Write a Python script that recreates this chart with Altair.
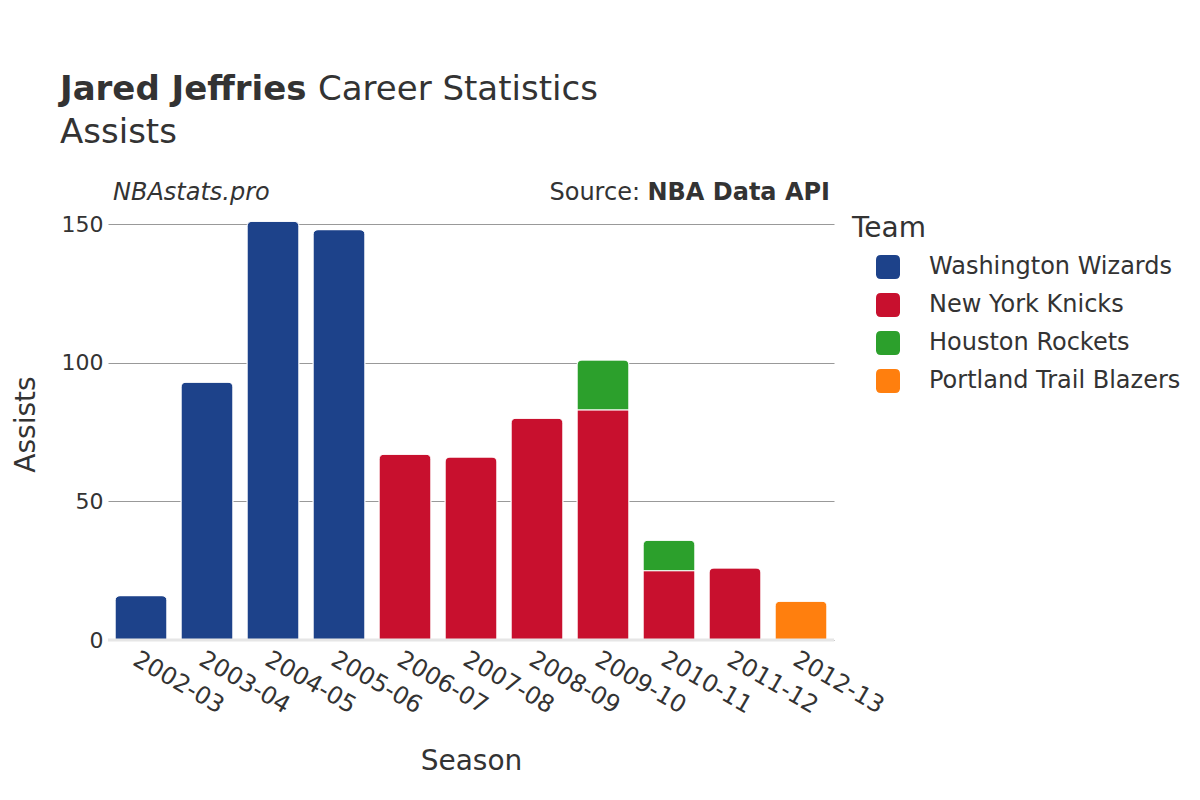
import altair as alt
import pandas as pd

seasons = ["2002-03", "2003-04", "2004-05", "2005-06", "2006-07", "2007-08",
           "2008-09", "2009-10", "2010-11", "2011-12", "2012-13"]
teams = ["Washington Wizards", "New York Knicks", "Houston Rockets", "Portland Trail Blazers"]
team_colors = ["#1d428a", "#c8102e", "#2ca02c", "#ff7f0e"]

row_season = ["2002-03", "2003-04", "2004-05", "2005-06",
              "2006-07", "2007-08", "2008-09", "2009-10", "2010-11", "2011-12",
              "2009-10", "2010-11",
              "2012-13"]
row_team = ["Washington Wizards"] * 4 + ["New York Knicks"] * 6 + ["Houston Rockets"] * 2 + ["Portland Trail Blazers"]
row_assists = [16, 93, 151, 148,
               67, 66, 80, 83, 25, 26,
               18, 11,
               14]

FONT = "DejaVu Sans"
TXT = "#333333"

df = pd.DataFrame({"Season": row_season, "Team": row_team, "Assists": row_assists})
df["order"] = df["Team"].map({t: i for i, t in enumerate(teams)})

rounded = "M -0.6 -1 L 0.6 -1 Q 1 -1 1 -0.6 L 1 0.6 Q 1 1 0.6 1 L -0.6 1 Q -1 1 -1 0.6 L -1 -0.6 Q -1 -1 -0.6 -1 Z"

bars = alt.Chart(df).mark_bar(cornerRadiusEnd=5, stroke="white", strokeWidth=1).encode(
    x=alt.X("Season:N", sort=seasons,
            scale=alt.Scale(paddingInner=0.212, paddingOuter=0.106),
            axis=alt.Axis(title="Season", labelAngle=30, labelAlign="left", labelBaseline="top",
                          labelFontSize=24, labelFont=FONT, labelColor=TXT, labelPadding=7,
                          ticks=False, domain=False, titleFontSize=28, titleFont=FONT,
                          titleFontWeight="normal", titleColor=TXT, titlePadding=30)),
    y=alt.Y("Assists:Q", stack="zero",
            scale=alt.Scale(domain=[0, 155.8], nice=False),
            axis=alt.Axis(title="Assists", values=[0, 50, 100, 150], labelFontSize=22,
                          labelFont=FONT, labelColor=TXT, labelPadding=5, ticks=False,
                          domain=False, gridColor="#999999", gridWidth=1,
                          titleFontSize=28, titleFont=FONT, titleFontWeight="normal",
                          titleColor=TXT, titlePadding=21)),
    color=alt.Color("Team:N", scale=alt.Scale(domain=teams, range=team_colors),
                    legend=alt.Legend(title="Team", orient="none", legendX=744, legendY=7,
                                      titleFontSize=28, titleFont=FONT, titleFontWeight="normal",
                                      titleColor=TXT, titlePadding=12,
                                      labelFontSize=24, labelFont=FONT, labelColor=TXT,
                                      labelLimit=400,
                                      symbolType=rounded, symbolSize=576, symbolOffset=24,
                                      symbolStrokeWidth=0, labelOffset=29, rowPadding=14,
                                      padding=0)),
    order=alt.Order("order:Q", sort="ascending"),
)

zero = alt.Chart(pd.DataFrame({"z": [0]})).mark_rule(color="#e6e6e6", strokeWidth=3).encode(
    y=alt.Y("z:Q"), x=alt.value(0), x2=alt.value(726))

one = pd.DataFrame({"a": [0]})

def label(text, x, y, size, weight="normal", style="normal", align="left"):
    return alt.Chart(one).mark_text(text=text, font=FONT, fontSize=size, fontWeight=weight,
                                    fontStyle=style, align=align, baseline="alphabetic",
                                    color=TXT).encode(x=alt.value(x), y=alt.value(y))

texts = [
    label("Jared Jeffries", -48, -108, 34, weight="bold"),
    label("Career Statistics", 210, -108, 34),
    label("Assists", -48, -65, 34),
    label("NBAstats.pro", 5, -8, 24, style="italic"),
    label("NBA Data API", 722, -8, 24, weight="bold", align="right"),
    label("Source:", 532, -8, 24, align="right"),
]

chart = alt.layer(bars, zero, *texts).properties(
    width=726, height=432,
    autosize=alt.AutoSizeParams(type="none"),
    padding={"left": 100, "top": 200, "right": 350, "bottom": 150},
).configure_view(stroke=None)

chart.save("out.html", embed_options={"renderer": "svg", "actions": False})
